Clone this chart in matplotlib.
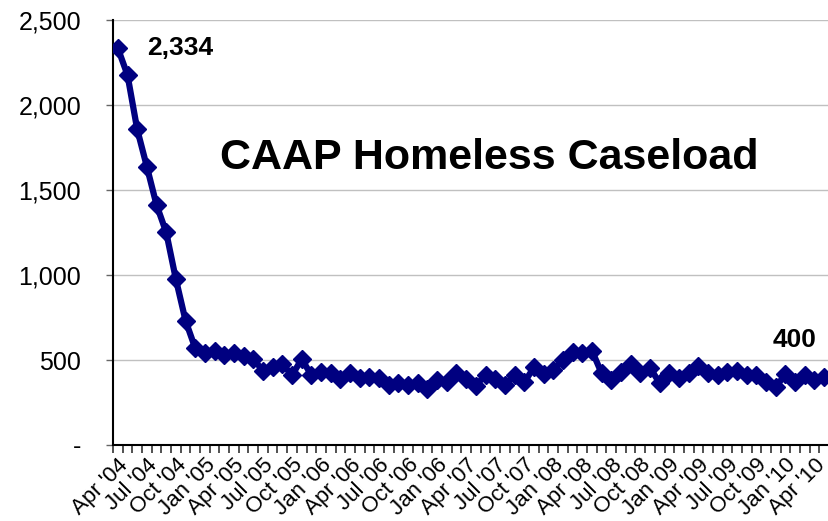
import matplotlib.pyplot as plt
from matplotlib.ticker import FuncFormatter

# monthly caseload, Apr '04 .. May '10
caseload = [2334, 2176, 1857, 1637, 1412, 1251, 975, 731, 569, 539,
            554, 529, 542, 522, 507, 436, 458, 478, 410, 505,
            412, 431, 422, 386, 422, 392, 402, 392, 353, 363,
            353, 367, 328, 385, 368, 424, 387, 350, 412, 389,
            353, 412, 368, 456, 420, 441, 500, 550, 539, 555,
            422, 382, 431, 475, 422, 455, 363, 422, 392, 422,
            465, 422, 412, 431, 435, 412, 412, 373, 343, 415,
            368, 412, 380, 400]

# quarterly labels as printed on the original chart
tick_labels = ["Apr '04", "Jul '04", "Oct '04", "Jan '05", "Apr '05", "Jul '05",
               "Oct '05", "Jan '06", "Apr '06", "Jul '06", "Oct '06", "Jan '06",
               "Apr '07", "Jul '07", "Oct '07", "Jan '08", "Apr '08", "Jul '08",
               "Oct '08", "Jan '09", "Apr '09", "Jul '09", "Oct '09", "Jan '10",
               "Apr '10"]

plt.rcParams['font.family'] = ['Liberation Sans', 'DejaVu Sans']

fig = plt.figure(figsize=(8.29, 5.21), dpi=100)
ax = fig.add_axes([113 / 829, 1 - 445 / 521, 1 - 113 / 829, (445 - 20) / 521])

x = list(range(len(caseload)))
ax.plot(x, caseload, color='#000080', lw=4.5, marker='D', markersize=9, zorder=3)

ax.set_xlim(-0.5, len(caseload) - 0.5)
ax.set_ylim(0, 2500)
ax.set_yticks(range(0, 2501, 500))
ax.yaxis.set_major_formatter(FuncFormatter(lambda v, p: '-' if v == 0 else f"{int(v):,}"))
ax.yaxis.grid(True, color='#c0c0c0', lw=1)
ax.set_axisbelow(True)

ax.set_xticks(x[::3])
ax.set_xticklabels(tick_labels, rotation=45, ha='right', va='top', rotation_mode='anchor')
ax.set_xticks([i - 0.5 for i in range(len(caseload) + 1)], minor=True)
ax.tick_params(axis='x', which='major', length=0, labelsize=16, pad=7)
ax.tick_params(axis='x', which='minor', length=6, width=1.2, color='#333333')
ax.tick_params(axis='y', length=5, width=1, labelsize=18, pad=18, color='#666666')

for s in ['top', 'right']:
    ax.spines[s].set_visible(False)
ax.spines['left'].set_linewidth(1.5)
ax.spines['bottom'].set_linewidth(1.5)

ax.annotate(f"{caseload[0]:,}", xy=(0, caseload[0]), xytext=(62, 0), textcoords='offset pixels',
            ha='center', va='center', fontsize=19, fontweight='bold')
ax.annotate(f"{caseload[-1]:,}", xy=(x[-1], caseload[-1]), xytext=(-30, 37), textcoords='offset pixels',
            ha='center', va='center', fontsize=19, fontweight='bold')

fig.text(489 / 829, 1 - 169 / 521, "CAAP Homeless Caseload", ha='center', va='baseline',
         fontsize=31, fontweight='bold')

fig.savefig('out.png', dpi=100)
